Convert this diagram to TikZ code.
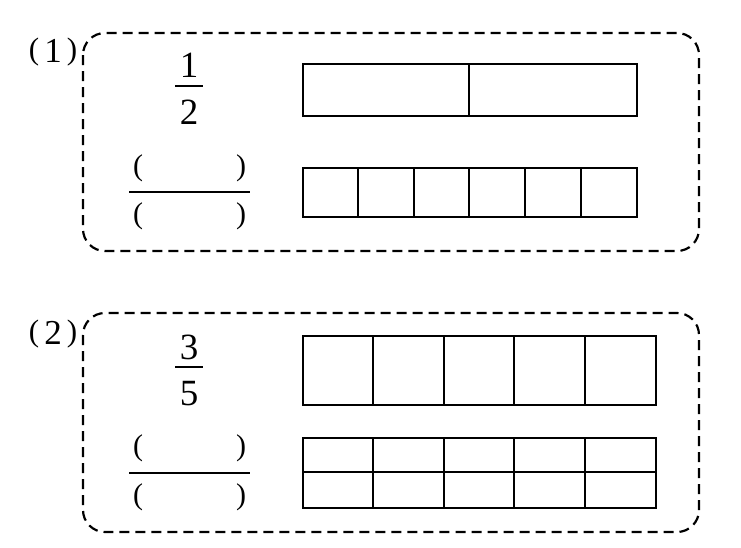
\documentclass[tikz,border=0pt]{standalone}
\usepackage{fontspec}
\setmainfont{Liberation Serif}
\newcommand{\tagpar}[1]{\raisebox{3.5pt}{\fontsize{31}{34}\selectfont #1}}
\begin{document}
\begin{tikzpicture}[x=1pt,y=-1pt,
  dashbox/.style={draw, line width=2.2pt, dash pattern=on 10pt off 6pt, rounded corners=22pt},
  bar/.style={draw, line width=2.3pt, rectangle, inner sep=0pt, anchor=north west},
  grid/.style={line width=2.3pt},
  fbar/.style={line width=1.5pt},
  digit/.style={inner sep=0pt, font=\fontsize{37}{40}\selectfont},
  par/.style={inner sep=0pt, font=\fontsize{30}{34}\selectfont},
  tag/.style={inner sep=0pt}]
\useasboundingbox (0,0) rectangle (741,547);
% ---------- part (1) ----------
\draw[dashbox] (83,33) rectangle (699,251);
\node[tag] (t1) at (53,52) {\tagpar{(}\hspace{5pt}{\fontsize{35}{38}\selectfont 1}\hspace{5pt}\tagpar{)}};
\node[digit] (n1) at (189,65) {1};
\draw[fbar] (175,86) -- (203,86);
\node[digit] (d1) at (189,112) {2};
\node[par] (p1a) at (138,168) {(};
\node[par] (p1b) at (241,168) {)};
\draw[fbar] (129,192) -- (250,192);
\node[par] (p1c) at (138,216) {(};
\node[par] (p1d) at (241,216) {)};
\node[bar, minimum width=334pt, minimum height=52pt] (r1) at (302,63) {};
\draw[grid] (469,63) -- (469,115);
\node[bar, minimum width=334pt, minimum height=49pt] (r2) at (302,167) {};
\foreach \x in {358,414,469,525,581} \draw[grid] (\x,167) -- (\x,216);
% ---------- part (2) ----------
\draw[dashbox] (83,313) rectangle (699,532);
\node[tag] (t2) at (53,334) {\tagpar{(}\hspace{5pt}{\fontsize{35}{38}\selectfont 2}\hspace{5pt}\tagpar{)}};
\node[digit] (n2) at (189,347) {3};
\draw[fbar] (175,367) -- (203,367);
\node[digit] (d2) at (189,394) {5};
\node[par] (p2a) at (138,448) {(};
\node[par] (p2b) at (241,448) {)};
\draw[fbar] (129,473) -- (250,473);
\node[par] (p2c) at (138,497) {(};
\node[par] (p2d) at (241,497) {)};
\node[bar, minimum width=353pt, minimum height=69pt] (r3) at (302,335) {};
\foreach \x in {373,444,514,585} \draw[grid] (\x,335) -- (\x,404);
\node[bar, minimum width=353pt, minimum height=70pt] (r4) at (302,437) {};
\foreach \x in {373,444,514,585} \draw[grid] (\x,437) -- (\x,507);
\draw[grid] (302,472) -- (655,472);
\end{tikzpicture}
\end{document}
